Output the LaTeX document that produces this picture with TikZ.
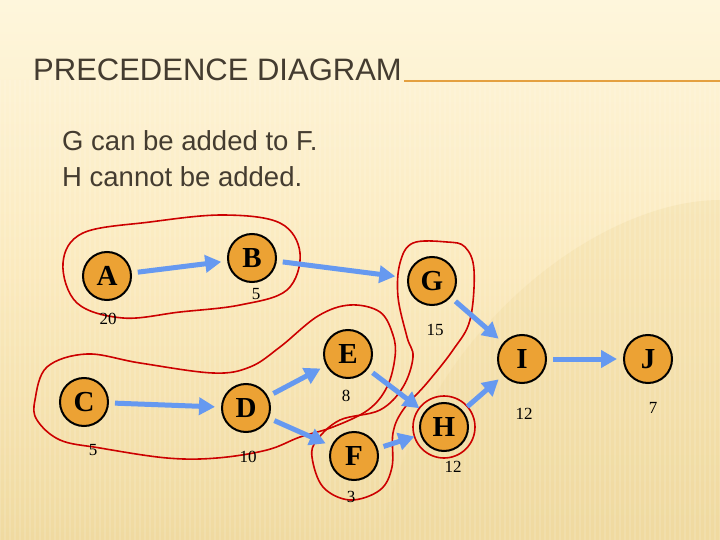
\documentclass[tikz,border=0pt]{standalone}
\usepackage{fontspec}
\setmainfont{Liberation Serif}
\newfontfamily\sansf{Liberation Sans}
\usetikzlibrary{arrows.meta}
\definecolor{bgtop}{RGB}{254,246,220}
\definecolor{bgmid}{RGB}{251,234,190}
\definecolor{bgbot}{RGB}{240,218,160}
\definecolor{titlecol}{RGB}{68,60,48}
\definecolor{rulecol}{RGB}{228,160,64}
\definecolor{nodeorange}{RGB}{236,162,52}
\definecolor{arrowblue}{RGB}{102,153,240}
\definecolor{loopred}{RGB}{204,0,0}
\tikzset{
  act/.style={circle, fill=nodeorange, draw=black, line width=2pt, minimum size=48pt, inner sep=0pt,
    font=\bfseries\fontsize{29}{29}\selectfont},
  dur/.style={font=\fontsize{17}{17}\selectfont, inner sep=0pt},
  arr/.style={draw=arrowblue, line width=5pt, -{Triangle[length=16pt,width=17pt]}, shorten <=6pt, shorten >=6pt},
  loop/.style={draw=loopred, line width=1.6pt},
}
\begin{document}
\begin{tikzpicture}[x=1pt,y=-1pt]
\useasboundingbox (0,0) rectangle (720,540);
% background
\shade[top color=bgtop, bottom color=bgbot, middle color=bgmid] (0,0) rectangle (720,540);
\fill[bgbot, opacity=0.35] (720,540) -- (720,200) .. controls (600,200) and (420,330) .. (380,540) -- cycle;
\foreach \x in {0,5,...,720} \draw[white, opacity=0.12, line width=1.5pt] (\x,80) -- (\x,540);
% title
\node[anchor=base west, inner sep=0pt, text=titlecol, font=\sansf\fontsize{31}{31}\selectfont] (title) at (33,81) {PRECEDENCE DIAGRAM};
\draw[rulecol, line width=2pt] (title.base east) ++(2,0) coordinate (r1) -- (720,81) coordinate (r2);
\node[anchor=base west, inner sep=0pt, text=titlecol, font=\sansf\fontsize{27.5}{27.5}\selectfont] (s1) at (62,151) {G can be added to F.};
\node[anchor=base west, inner sep=0pt, text=titlecol, font=\sansf\fontsize{27.5}{27.5}\selectfont] (s2) at (62,187) {H cannot be added.};
% loops
\draw[loop] plot[smooth cycle, tension=0.6] coordinates {(63,263) (83,233) (150,222) (223,215) (280,223) (300,253) (287,290) (240,305) (180,312) (123,318) (77,303)};
\draw[loop] plot[smooth cycle, tension=0.6] coordinates {(35,400) (47,367) (87,354) (140,363) (213,373) (250,367) (280,347) (318,316) (350,305) (380,312) (393,335) (395,357) (387,387) (368,410) (333,427) (300,437) (267,450) (217,458) (167,458) (100,448) (60,440) (37,420)};
\draw[loop] plot[smooth cycle, tension=0.6] coordinates {(447,242) (465,247) (474,270) (470,320) (453,350) (427,383) (403,410) (393,433) (392,467) (380,490) (350,500) (323,487) (312,457) (317,440) (340,420) (380,410) (403,387) (413,357) (407,337) (398,297) (400,263) (413,243)};
% nodes
\node[act] (A) at (107,276) {A};
\node[act] (B) at (252,258) {B};
\node[act] (G) at (432,281) {G};
\node[act] (E) at (348,354) {E};
\node[act] (I) at (522,359) {I};
\node[act] (J) at (648,359) {J};
\node[act] (C) at (84,402) {C};
\node[act] (D) at (246,408) {D};
\node[act] (F) at (354,456) {F};
\node[act] (H) at (444,427) {H};
\draw[loop] (H) circle (31);
% durations
\node[dur] (dA) at (108,319) {20};
\node[dur] (dB) at (256,294) {5};
\node[dur] (dG) at (435,330) {15};
\node[dur] (dE) at (346,396) {8};
\node[dur] (dC) at (93,450) {5};
\node[dur] (dD) at (248,457) {10};
\node[dur] (dF) at (351,497) {3};
\node[dur] (dH) at (453,467) {12};
\node[dur] (dI) at (524,414) {12};
\node[dur] (dJ) at (653,408) {7};
% arrows
\draw[arr] (A) -- (B);
\draw[arr, shorten >=12pt] (B) -- (G);
\draw[arr] (G) -- (I);
\draw[arr] (I) -- (J);
\draw[arr] (C) -- (D);
\draw[arr] (D) -- (E);
\draw[arr] (D) -- (F);
\draw[arr] (E) -- (H);
\draw[arr] (F) -- (H);
\draw[arr] (H) -- (I);
\end{tikzpicture}
\end{document}
